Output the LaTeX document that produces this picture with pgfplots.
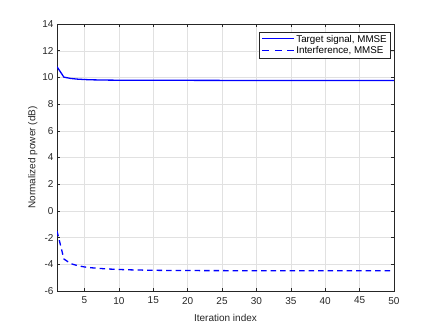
\documentclass[border=0pt]{standalone}
\usepackage{pgfplots}
\pgfplotsset{compat=1.18}
\usepackage{fontspec}
\setmainfont{Liberation Sans}
\definecolor{axgray}{RGB}{38,38,38}
\definecolor{gridgray}{RGB}{225,225,225}
% legend samples set as coloured rules in the text
\newcommand{\solidkey}{\textcolor{blue}{\rule[2.9pt]{32pt}{1.3pt}}\hspace{2pt}}
\newcommand{\dashkey}{\textcolor{blue}{\rule[2.9pt]{7pt}{1.3pt}\hspace{5.5pt}\rule[2.9pt]{7pt}{1.3pt}\hspace{5.5pt}\rule[2.9pt]{7pt}{1.3pt}}\hspace{2pt}}

\begin{document}
\begin{tikzpicture}
\useasboundingbox (-57pt,-36pt) rectangle (379pt,291pt);
\begin{axis}[
  at={(0pt,0pt)}, anchor=south west,
  scale only axis,
  width=337pt, height=267pt,
  xmin=1, xmax=50, ymin=-6, ymax=14,
  xtick={5,10,...,50},
  ytick={-6,-4,...,14},
  grid=major,
  grid style={gridgray, line width=0.4pt},
  axis line style={axgray, line width=0.5pt},
  tick style={axgray, line width=0.5pt},
  major tick length=3pt,
  tick align=inside,
  ticklabel style={font=\fontsize{10}{12}\selectfont, text=axgray},
  xticklabel style={yshift=-2.5pt},
  /pgf/number format/assume math mode=true,
  xlabel={Iteration index},
  ylabel={Normalized power (dB)},
  label style={font=\fontsize{10}{12}\selectfont, text=axgray},
  xlabel style={yshift=-3pt},
  ylabel style={yshift=-2pt},
  legend style={at={(0.988,0.97)}, anchor=north east,
    font=\fontsize{9.8}{11}\selectfont, draw=axgray,
    inner sep=1pt, row sep=-1pt},
  legend image code/.code={},
  legend cell align=left,
]
\addplot[blue, line width=1.3pt] coordinates {
  (1,10.8) (2,10.02) (3,9.92) (4,9.87) (5,9.84) (6,9.82) (7,9.81) (8,9.8)
  (10,9.79) (15,9.78) (20,9.78) (30,9.77) (40,9.77) (50,9.77)
};
\addlegendentry{\solidkey Target signal, MMSE}
\addplot[blue, line width=1.3pt, dash pattern=on 5.5pt off 4pt] coordinates {
  (1,-1.5) (2,-3.6) (3,-3.95) (4,-4.1) (5,-4.2) (6,-4.26) (7,-4.3) (8,-4.34)
  (10,-4.39) (12,-4.42) (15,-4.45) (20,-4.47) (30,-4.48) (40,-4.48) (50,-4.48)
};
\addlegendentry{\dashkey Interference, MMSE}
\end{axis}
\end{tikzpicture}
\end{document}
